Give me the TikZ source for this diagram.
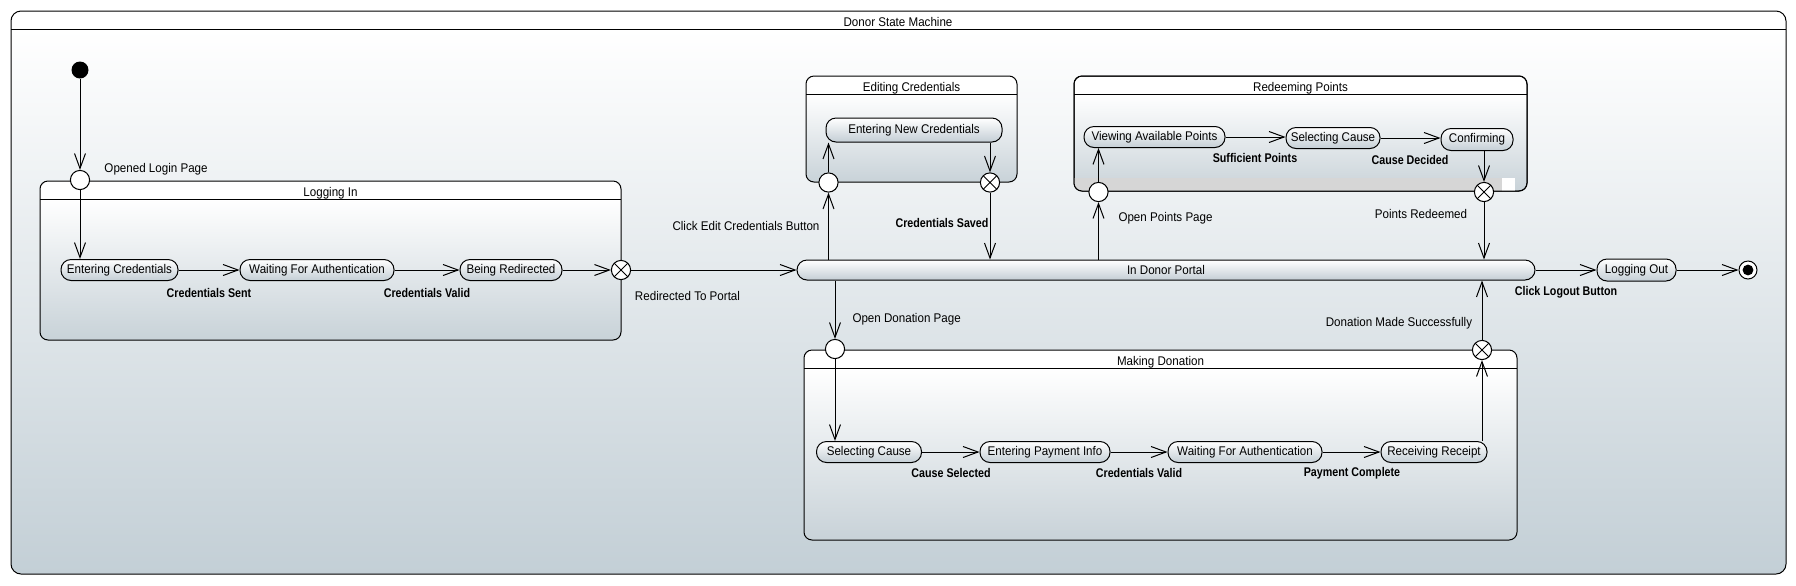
\documentclass[tikz,border=0pt]{standalone}
\usepackage{fontspec}
\setmainfont{Liberation Sans}[FakeStretch=0.92]
\newfontfamily\lblboldfam{Liberation Sans}[FakeStretch=0.85]
\usetikzlibrary{arrows.meta}
\definecolor{framebot}{HTML}{C3CFD6}
\definecolor{boxbot}{HTML}{C8D2D8}
\definecolor{statebot}{HTML}{C4CED5}
\definecolor{stripgray}{HTML}{D6D6D6}
\newcommand{\mycompbox}[7]{%
  \fill[white, rounded corners=4pt] (#1,#2) rectangle (#3,#4);
  \shade[top color=white, bottom color=boxbot, rounded corners=4pt] (#1,#5) rectangle (#3,#4);
  \draw[rounded corners=4pt] (#1,#2) rectangle (#3,#4);
  \draw (#1,#5) -- (#3,#5);
  \node[lbl] (#6) at ({(#1+#3)/2},{(#2+#5)/2+3}) {#7};
}
\begin{document}
\begin{tikzpicture}[x=0.5pt, y=-0.5pt,
  font=\fontsize{6.3}{7.5}\selectfont,
  line width=0.5pt,
  arr/.style={-{Straight Barb[length=7.5pt,width=5.5pt]}},
  state/.style={draw, rounded corners=5pt, top color=white, bottom color=statebot,
    minimum height=10.5pt, inner sep=0pt},
  pseudo/.style={draw, circle, fill=white, minimum size=9.6pt, inner sep=0pt},
  exitpt/.style={pseudo, path picture={
    \draw[line width=0.5pt] (path picture bounding box.north west) -- (path picture bounding box.south east)
      (path picture bounding box.north east) -- (path picture bounding box.south west);}},
  lbl/.style={inner sep=0pt},
  blbl/.style={inner sep=0pt, font=\lblboldfam\bfseries\fontsize{6.3}{7.5}\selectfont}
]
\useasboundingbox (0,0) rectangle (1796,585);
\fill[white] (0,0) rectangle (1796,585);

% outer frame
\fill[white, rounded corners=5pt] (11,11) rectangle (1786,574);
\shade[top color=white, bottom color=framebot, rounded corners=5pt] (11,29) rectangle (1786,574);
\draw[rounded corners=5pt] (11,11) rectangle (1786,574);
\draw (11,29) -- (1786,29);
\node[lbl] (title) at (898,22) {Donor State Machine};

% composite states
\mycompbox{40}{181}{621}{340}{199}{tlog}{Logging In}
\mycompbox{806}{76}{1017}{182}{94}{tedit}{Editing Credentials}
\mycompbox{1074}{76}{1527}{191}{94}{tredeem}{Redeeming Points}
\begin{scope}
  \clip[rounded corners=4pt] (1074,76) rectangle (1527,191);
  \fill[stripgray] (1074,178) rectangle (1502,191);
  \fill[white] (1502,178) rectangle (1515,191);
\end{scope}
\draw[rounded corners=4pt] (1074,76) rectangle (1527,191);
\mycompbox{804}{350}{1517}{540}{368}{tdon}{Making Donation}

% simple states
\node[state, minimum width=58.5pt] (ec) at (119.5,270) {Entering Credentials};
\node[state, minimum width=77pt] (wfa) at (317,270) {Waiting For Authentication};
\node[state, minimum width=51pt] (br) at (511,270) {Being Redirected};
\node[state, minimum width=369pt, minimum height=10pt] (portal) at (1166,270) {In Donor Portal};
\node[state, minimum width=39.5pt, minimum height=11pt] (lo) at (1636.5,270) {Logging Out};
\node[state, minimum width=88pt, minimum height=12pt] (enc) at (914,130) {Entering New Credentials};
\node[state, minimum width=70.5pt] (vap) at (1154.5,137) {Viewing Available Points};
\node[state, minimum width=47pt] (sc1) at (1333,138) {Selecting Cause};
\node[state, minimum width=36pt, minimum height=11pt] (conf) at (1477,139.5) {Confirming};
\node[state, minimum width=52.5pt] (sc2) at (869,452) {Selecting Cause};
\node[state, minimum width=65pt] (epi) at (1045,452) {Entering Payment Info};
\node[state, minimum width=77pt] (wfa2) at (1245,452) {Waiting For Authentication};
\node[state, minimum width=53pt] (rr) at (1434,452) {Receiving Receipt};

% pseudostates
\node[circle, fill=black, minimum size=8.5pt, inner sep=0pt] (init) at (80,70) {};
\node[pseudo] (en1) at (80,180) {};
\node[exitpt] (ex1) at (621,270) {};
\node[pseudo] (en2) at (828.5,182.5) {};
\node[exitpt] (ex2) at (990,182.5) {};
\node[pseudo] (en3) at (1098.5,192) {};
\node[exitpt] (ex3) at (1484,192) {};
\node[pseudo] (en4) at (835,349) {};
\node[exitpt] (ex4) at (1482,350) {};
\node[circle, draw, fill=white, minimum size=9pt, inner sep=0pt] (fin) at (1748,270) {};
\node[circle, fill=black, minimum size=5.4pt, inner sep=0pt] (finin) at (fin.center) {};

% transitions
\draw[arr] (init) -- (en1);
\draw[arr] (en1) -- (en1 |- ec.north);
\draw[arr] (ec) -- (wfa);
\draw[arr] (wfa) -- (br);
\draw[arr] (br) -- (ex1);
\draw[arr] (ex1) -- (portal);
\draw[arr] (en2 |- portal.north) -- (en2);
\draw[arr] (en2) -- (en2 |- enc.south);
\draw[arr] (ex2 |- enc.south) -- (ex2);
\draw[arr] (ex2) -- (ex2 |- portal.north);
\draw[arr] (en3 |- portal.north) -- (en3);
\draw[arr] (en3) -- (en3 |- vap.south);
\draw[arr] (vap.east) -- (vap.east -| sc1.west);
\draw[arr] (sc1.east) -- (sc1.east -| conf.west);
\draw[arr] (ex3 |- conf.south) -- (ex3);
\draw[arr] (ex3) -- (ex3 |- portal.north);
\draw[arr] (en4 |- portal.south) -- (en4);
\draw[arr] (en4) -- (en4 |- sc2.north);
\draw[arr] (sc2) -- (epi);
\draw[arr] (epi) -- (wfa2);
\draw[arr] (wfa2) -- (rr);
\draw[arr] (ex4 |- rr.north) -- (ex4);
\draw[arr] (ex4) -- (ex4 |- portal.south);
\draw[arr] (portal) -- (lo);
\draw[arr] (lo) -- (fin);

% labels
\node[lbl, anchor=west] (l1) at (104,169) {Opened Login Page};
\node[blbl] (l2) at (209,293) {Credentials Sent};
\node[blbl] (l3) at (427,293) {Credentials Valid};
\node[lbl] (l4) at (687.5,296) {Redirected To Portal};
\node[lbl] (l5) at (746,226) {Click Edit Credentials Button};
\node[blbl] (l6) at (942,223) {Credentials Saved};
\node[lbl, anchor=west] (l7) at (1118,218) {Open Points Page};
\node[lbl] (l8) at (1421,214) {Points Redeemed};
\node[blbl] (l9) at (1255,158) {Sufficient Points};
\node[blbl] (l10) at (1410,160) {Cause Decided};
\node[blbl] (l11) at (1566,292) {Click Logout Button};
\node[lbl, anchor=west] (l12) at (852,319) {Open Donation Page};
\node[lbl] (l13) at (1399,323) {Donation Made Successfully};
\node[blbl] (l14) at (951,473) {Cause Selected};
\node[blbl] (l15) at (1139,473) {Credentials Valid};
\node[blbl] (l16) at (1352,473) {Payment Complete};
\end{tikzpicture}
\end{document}
